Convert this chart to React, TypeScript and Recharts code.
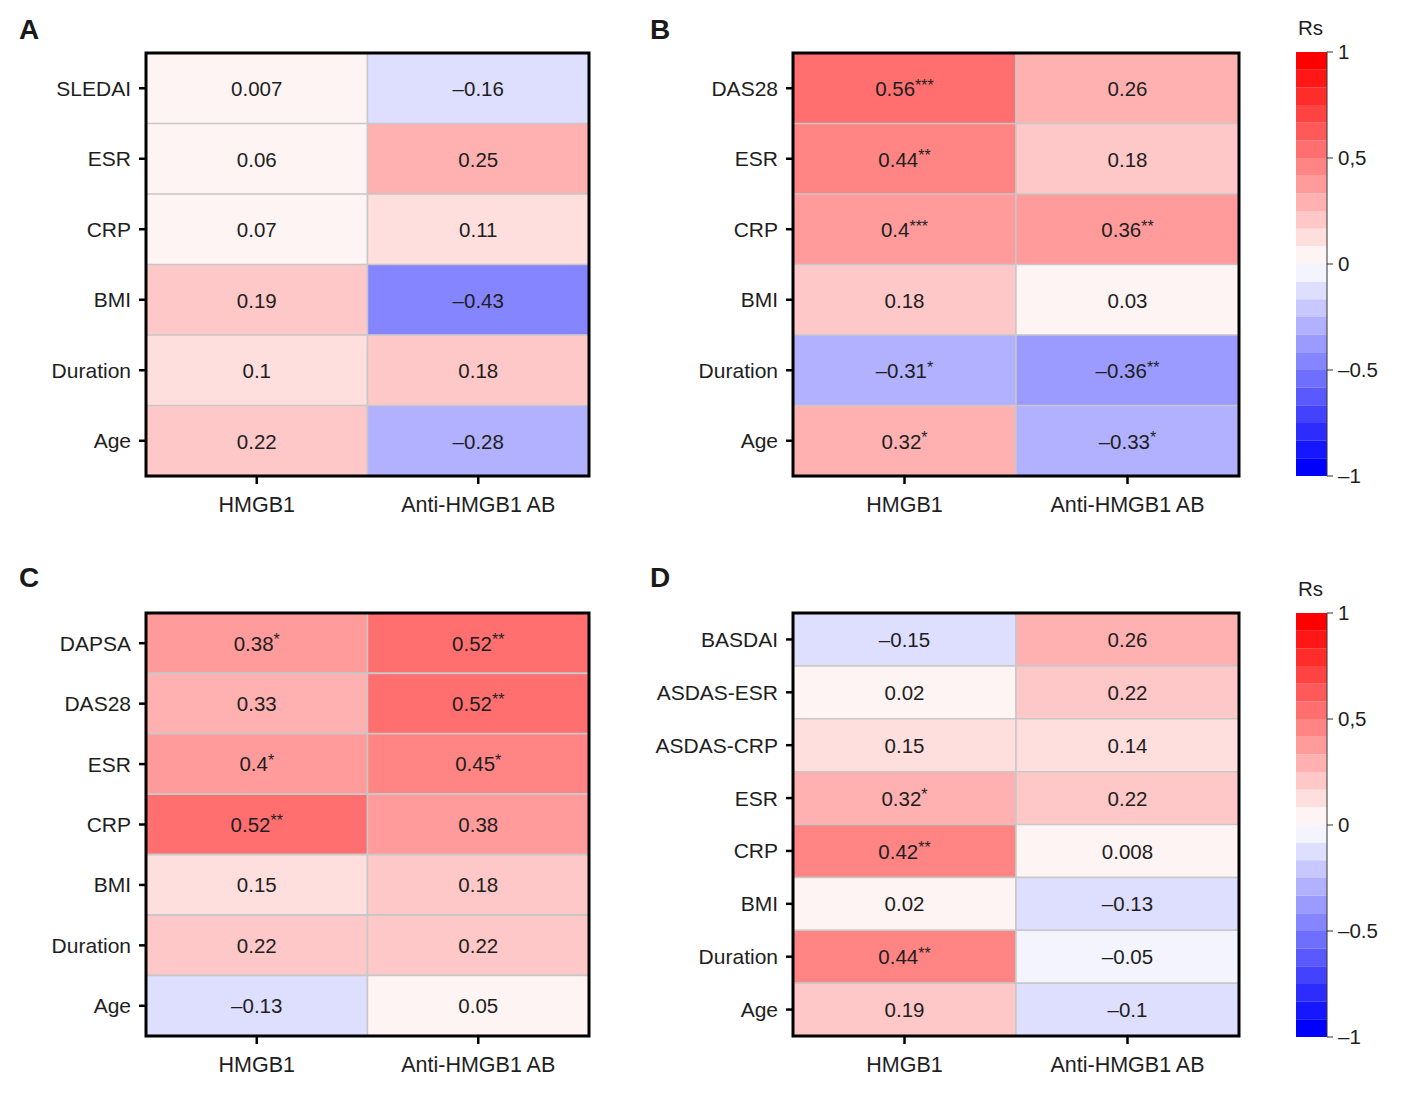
import React from 'react'
import { BarChart, Bar, XAxis, YAxis, Cell, LabelList, ReferenceArea } from 'recharts'

const FONT = '"Liberation Sans", Arial, Helvetica, sans-serif'

const columns = ['HMGB1', 'Anti-HMGB1 AB']

// Panel A
const rowsA = ['SLEDAI', 'ESR', 'CRP', 'BMI', 'Duration', 'Age']
const hmgbA = [0.007, 0.06, 0.07, 0.19, 0.1, 0.22]
const antiA = [-0.16, 0.25, 0.11, -0.43, 0.18, -0.28]
const hStarsA = ['', '', '', '', '', '']
const aStarsA = ['', '', '', '', '', '']

// Panel B
const rowsB = ['DAS28', 'ESR', 'CRP', 'BMI', 'Duration', 'Age']
const hmgbB = [0.56, 0.44, 0.4, 0.18, -0.31, 0.32]
const antiB = [0.26, 0.18, 0.36, 0.03, -0.36, -0.33]
const hStarsB = ['***', '**', '***', '', '*', '*']
const aStarsB = ['', '', '**', '', '**', '*']

// Panel C
const rowsC = ['DAPSA', 'DAS28', 'ESR', 'CRP', 'BMI', 'Duration', 'Age']
const hmgbC = [0.38, 0.33, 0.4, 0.52, 0.15, 0.22, -0.13]
const antiC = [0.52, 0.52, 0.45, 0.38, 0.18, 0.22, 0.05]
const hStarsC = ['*', '', '*', '**', '', '', '']
const aStarsC = ['**', '**', '*', '', '', '', '']

// Panel D
const rowsD = ['BASDAI', 'ASDAS-ESR', 'ASDAS-CRP', 'ESR', 'CRP', 'BMI', 'Duration', 'Age']
const hmgbD = [-0.15, 0.02, 0.15, 0.32, 0.42, 0.02, 0.44, 0.19]
const antiD = [0.26, 0.22, 0.14, 0.22, 0.008, -0.13, -0.05, -0.1]
const hStarsD = ['', '', '', '*', '**', '', '**', '']
const aStarsD = ['', '', '', '', '', '', '', '']

// colour bar
const cbTicks = [1, 0.5, 0, -0.5, -1]
const cbTickLabels = ['1', '0,5', '0', '–0.5', '–1']
const BINS = 12

function binColor(k: number, neg: boolean) {
  const c = Math.round((244 * (BINS - k)) / (BINS - 1))
  return neg ? `rgb(${c},${c},255)` : `rgb(255,${c},${c})`
}

function rsColor(v: number) {
  const k = Math.min(BINS, Math.floor(Math.abs(v) * BINS + 1e-9) + 1)
  return binColor(k, v < 0)
}

const fmt = (v: number) => String(v).replace('-', '–')

function CellLabel(props: any) {
  const { x, y, width, height, value } = props
  const [num, stars] = String(value).split('|')
  return (
    <text
      x={x + width / 2}
      y={y + height / 2}
      textAnchor="middle"
      dominantBaseline="central"
      fontSize={20.5}
      fill="#1e1e1e"
      fontFamily={FONT}
    >
      {num}
      {stars ? (
        <tspan fontSize={16} dy={-4}>
          {stars}
        </tspan>
      ) : null}
    </text>
  )
}

interface HeatmapProps {
  rows: string[]
  hVals: number[]
  aVals: number[]
  hStars: string[]
  aStars: string[]
  left: number
  top: number
  width: number
  height: number
  mLeft: number
  mRight: number
  mBottom: number
}

function Heatmap({ rows, hVals, aVals, hStars, aStars, left, top, width, height, mLeft, mRight, mBottom }: HeatmapProps) {
  const data = rows.map((name, i) => ({
    name,
    hSpan: 1,
    aSpan: 1,
    hLabel: fmt(hVals[i]) + '|' + hStars[i],
    aLabel: fmt(aVals[i]) + '|' + aStars[i],
    hFill: rsColor(hVals[i]),
    aFill: rsColor(aVals[i]),
  }))

  return (
    <div style={{ position: 'absolute', left, top }}>
      <BarChart
        width={width}
        height={height}
        data={data}
        layout="vertical"
        barCategoryGap={0}
        margin={{ top: 53, right: mRight, left: mLeft, bottom: mBottom }}
      >
        <XAxis
          type="number"
          domain={[0, 2]}
          ticks={[0.5, 1.5]}
          interval={0}
          allowDataOverflow
          tickFormatter={(v: number) => (v < 1 ? columns[0] : columns[1])}
          axisLine={false}
          tickLine={{ stroke: '#000', strokeWidth: 2.5 }}
          tickSize={8}
          tickMargin={13}
          height={40}
          tick={{ fontSize: 21.5, fill: '#1e1e1e', fontFamily: FONT }}
        />
        <YAxis
          type="category"
          dataKey="name"
          width={130}
          axisLine={false}
          tickLine={{ stroke: '#000', strokeWidth: 2.5 }}
          tickSize={7}
          tickMargin={8}
          interval={0}
          tick={{ fontSize: 21, fill: '#1e1e1e', fontFamily: FONT }}
        />
        <Bar dataKey="hSpan" stackId="s" stroke="#c8c8c8" strokeWidth={1.5} isAnimationActive={false}>
          {data.map((d, i) => (
            <Cell key={i} fill={d.hFill} />
          ))}
          <LabelList dataKey="hLabel" content={CellLabel} />
        </Bar>
        <Bar dataKey="aSpan" stackId="s" stroke="#c8c8c8" strokeWidth={1.5} isAnimationActive={false}>
          {data.map((d, i) => (
            <Cell key={i} fill={d.aFill} />
          ))}
          <LabelList dataKey="aLabel" content={CellLabel} />
        </Bar>
        <ReferenceArea
          x1={0}
          x2={2}
          fill="none"
          fillOpacity={0}
          stroke="#000"
          strokeWidth={3}
          ifOverflow="visible"
          zIndex={2000}
        />
      </BarChart>
    </div>
  )
}

function ColorBar({ top }: { top: number }) {
  const row: Record<string, number | string> = { name: 'rs' }
  const keys: { key: string; fill: string }[] = []
  for (let k = 1; k <= BINS; k++) {
    row[`p${k}`] = 1 / BINS
    keys.push({ key: `p${k}`, fill: binColor(k, false) })
  }
  for (let k = 1; k <= BINS; k++) {
    row[`n${k}`] = -1 / BINS
    keys.push({ key: `n${k}`, fill: binColor(k, true) })
  }
  return (
    <div style={{ position: 'absolute', left: 1250, top }}>
      <div
        style={{
          position: 'absolute',
          left: 48,
          top: 16,
          fontSize: 20.5,
          fontFamily: FONT,
          color: '#1e1e1e',
          lineHeight: '24px',
        }}
      >
        Rs
      </div>
      <BarChart
        width={160}
        height={500}
        data={[row]}
        stackOffset="sign"
        barCategoryGap={0}
        margin={{ top: 52, right: 23, left: 46, bottom: 24 }}
      >
        <XAxis dataKey="name" hide />
        <YAxis
          orientation="right"
          type="number"
          domain={[-1, 1]}
          allowDataOverflow
          ticks={cbTicks}
          interval={0}
          width={60}
          tickFormatter={(v: number) => cbTickLabels[cbTicks.indexOf(v)] ?? String(v)}
          axisLine={{ stroke: '#333', strokeWidth: 1 }}
          tickLine={{ stroke: '#333', strokeWidth: 1 }}
          tickSize={6}
          tickMargin={5}
          tick={{ fontSize: 20.5, fill: '#1e1e1e', fontFamily: FONT, textAnchor: 'start' }}
        />
        {keys.map((k) => (
          <Bar key={k.key} dataKey={k.key} stackId="cb" fill={k.fill} isAnimationActive={false} />
        ))}
      </BarChart>
    </div>
  )
}

function PanelLetter({ text, left, top }: { text: string; left: number; top: number }) {
  return (
    <div
      style={{
        position: 'absolute',
        left,
        top,
        fontSize: 28,
        fontWeight: 'bold',
        fontFamily: FONT,
        color: '#1a1a1a',
        lineHeight: '32px',
      }}
    >
      {text}
    </div>
  )
}

export default function App() {
  return (
    <div
      style={{
        position: 'absolute',
        left: 0,
        top: 0,
        width: 1410,
        height: 1098,
        overflow: 'hidden',
        background: '#fff',
      }}
    >
      <PanelLetter text="A" left={19} top={14} />
      <PanelLetter text="B" left={650} top={14} />
      <PanelLetter text="C" left={19} top={562} />
      <PanelLetter text="D" left={650} top={562} />

      <Heatmap rows={rowsA} hVals={hmgbA} aVals={antiA} hStars={hStarsA} aStars={aStarsA}
        left={0} top={0} width={600} height={540} mLeft={16} mRight={11} mBottom={24} />
      <Heatmap rows={rowsB} hVals={hmgbB} aVals={antiB} hStars={hStarsB} aStars={aStarsB}
        left={640} top={0} width={610} height={540} mLeft={23} mRight={11} mBottom={24} />
      <Heatmap rows={rowsC} hVals={hmgbC} aVals={antiC} hStars={hStarsC} aStars={aStarsC}
        left={0} top={560} width={600} height={520} mLeft={16} mRight={11} mBottom={4} />
      <Heatmap rows={rowsD} hVals={hmgbD} aVals={antiD} hStars={hStarsD} aStars={aStarsD}
        left={640} top={560} width={610} height={520} mLeft={23} mRight={11} mBottom={4} />

      <ColorBar top={0} />
      <ColorBar top={561} />
    </div>
  )
}
